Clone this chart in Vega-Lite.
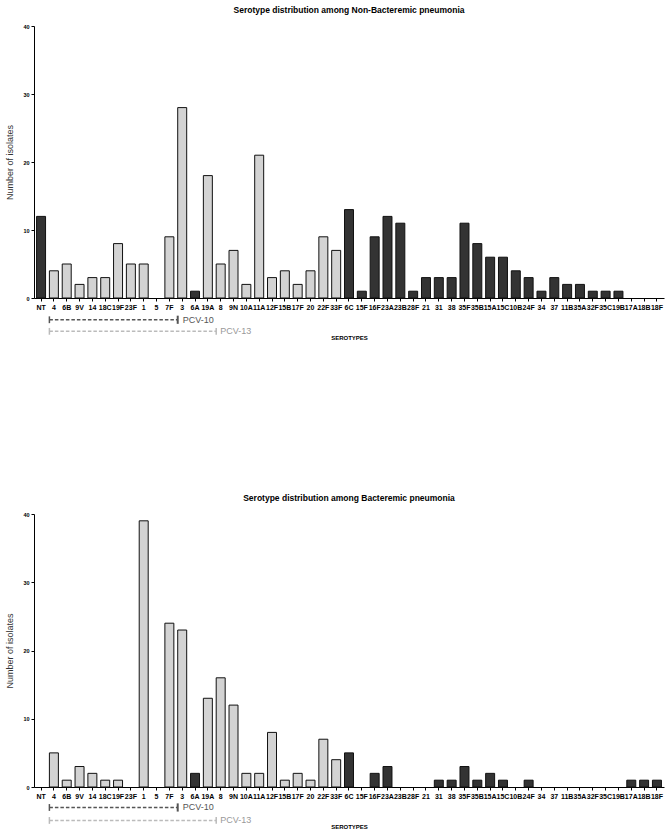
{
  "$schema": "https://vega.github.io/schema/vega-lite/v6.json",
  "padding": {"left": 5, "top": 5, "right": 5, "bottom": 5},
  "background": "#ffffff",
  "config": {
    "font": "Liberation Sans",
    "view": {"stroke": null},
    "axis": {"domainColor": "#000000", "tickColor": "#000000", "labelColor": "#000000", "labelFontWeight": "bold", "grid": false, "tickSize": 3, "domainWidth": 1, "tickWidth": 1},
    "title": {"fontSize": 8.5, "fontWeight": "bold", "color": "#000000", "offset": 10, "anchor": "middle"},
    "concat": {"spacing": 153}
  },
  "datasets": {
    "serotypes": [
      {"serotype": "NT", "group": "non-PPV23", "nonBacteremic": 12, "bacteremic": 0},
      {"serotype": "4", "group": "PPV23", "nonBacteremic": 4, "bacteremic": 5},
      {"serotype": "6B", "group": "PPV23", "nonBacteremic": 5, "bacteremic": 1},
      {"serotype": "9V", "group": "PPV23", "nonBacteremic": 2, "bacteremic": 3},
      {"serotype": "14", "group": "PPV23", "nonBacteremic": 3, "bacteremic": 2},
      {"serotype": "18C", "group": "PPV23", "nonBacteremic": 3, "bacteremic": 1},
      {"serotype": "19F", "group": "PPV23", "nonBacteremic": 8, "bacteremic": 1},
      {"serotype": "23F", "group": "PPV23", "nonBacteremic": 5, "bacteremic": 0},
      {"serotype": "1", "group": "PPV23", "nonBacteremic": 5, "bacteremic": 39},
      {"serotype": "5", "group": "PPV23", "nonBacteremic": 0, "bacteremic": 0},
      {"serotype": "7F", "group": "PPV23", "nonBacteremic": 9, "bacteremic": 24},
      {"serotype": "3", "group": "PPV23", "nonBacteremic": 28, "bacteremic": 23},
      {"serotype": "6A", "group": "non-PPV23", "nonBacteremic": 1, "bacteremic": 2},
      {"serotype": "19A", "group": "PPV23", "nonBacteremic": 18, "bacteremic": 13},
      {"serotype": "8", "group": "PPV23", "nonBacteremic": 5, "bacteremic": 16},
      {"serotype": "9N", "group": "PPV23", "nonBacteremic": 7, "bacteremic": 12},
      {"serotype": "10A", "group": "PPV23", "nonBacteremic": 2, "bacteremic": 2},
      {"serotype": "11A", "group": "PPV23", "nonBacteremic": 21, "bacteremic": 2},
      {"serotype": "12F", "group": "PPV23", "nonBacteremic": 3, "bacteremic": 8},
      {"serotype": "15B", "group": "PPV23", "nonBacteremic": 4, "bacteremic": 1},
      {"serotype": "17F", "group": "PPV23", "nonBacteremic": 2, "bacteremic": 2},
      {"serotype": "20", "group": "PPV23", "nonBacteremic": 4, "bacteremic": 1},
      {"serotype": "22F", "group": "PPV23", "nonBacteremic": 9, "bacteremic": 7},
      {"serotype": "33F", "group": "PPV23", "nonBacteremic": 7, "bacteremic": 4},
      {"serotype": "6C", "group": "non-PPV23", "nonBacteremic": 13, "bacteremic": 5},
      {"serotype": "15F", "group": "non-PPV23", "nonBacteremic": 1, "bacteremic": 0},
      {"serotype": "16F", "group": "non-PPV23", "nonBacteremic": 9, "bacteremic": 2},
      {"serotype": "23A", "group": "non-PPV23", "nonBacteremic": 12, "bacteremic": 3},
      {"serotype": "23B", "group": "non-PPV23", "nonBacteremic": 11, "bacteremic": 0},
      {"serotype": "28F", "group": "non-PPV23", "nonBacteremic": 1, "bacteremic": 0},
      {"serotype": "21", "group": "non-PPV23", "nonBacteremic": 3, "bacteremic": 0},
      {"serotype": "31", "group": "non-PPV23", "nonBacteremic": 3, "bacteremic": 1},
      {"serotype": "38", "group": "non-PPV23", "nonBacteremic": 3, "bacteremic": 1},
      {"serotype": "35F", "group": "non-PPV23", "nonBacteremic": 11, "bacteremic": 3},
      {"serotype": "35B", "group": "non-PPV23", "nonBacteremic": 8, "bacteremic": 1},
      {"serotype": "15A", "group": "non-PPV23", "nonBacteremic": 6, "bacteremic": 2},
      {"serotype": "15C", "group": "non-PPV23", "nonBacteremic": 6, "bacteremic": 1},
      {"serotype": "10B", "group": "non-PPV23", "nonBacteremic": 4, "bacteremic": 0},
      {"serotype": "24F", "group": "non-PPV23", "nonBacteremic": 3, "bacteremic": 1},
      {"serotype": "34", "group": "non-PPV23", "nonBacteremic": 1, "bacteremic": 0},
      {"serotype": "37", "group": "non-PPV23", "nonBacteremic": 3, "bacteremic": 0},
      {"serotype": "11B", "group": "non-PPV23", "nonBacteremic": 2, "bacteremic": 0},
      {"serotype": "35A", "group": "non-PPV23", "nonBacteremic": 2, "bacteremic": 0},
      {"serotype": "32F", "group": "non-PPV23", "nonBacteremic": 1, "bacteremic": 0},
      {"serotype": "35C", "group": "non-PPV23", "nonBacteremic": 1, "bacteremic": 0},
      {"serotype": "19B", "group": "non-PPV23", "nonBacteremic": 1, "bacteremic": 0},
      {"serotype": "17A", "group": "non-PPV23", "nonBacteremic": 0, "bacteremic": 1},
      {"serotype": "18B", "group": "non-PPV23", "nonBacteremic": 0, "bacteremic": 1},
      {"serotype": "18F", "group": "non-PPV23", "nonBacteremic": 0, "bacteremic": 1}
    ],
    "vaccines": [
      {"vaccine": "PCV-10", "from": "4", "to": "7F"},
      {"vaccine": "PCV-13", "from": "4", "to": "19A"}
    ]
  },
  "vconcat": [
    {
      "title": "Serotype distribution among Non-Bacteremic pneumonia",
      "width": 630,
      "height": 272,
      "layer": [
        {
          "data": {"name": "serotypes"},
          "mark": {"type": "bar", "stroke": "#111111", "strokeWidth": 1},
          "encoding": {
            "x": {"field": "serotype", "type": "nominal", "sort": null, "title": "SEROTYPES",
                  "scale": {"paddingInner": 0.3, "paddingOuter": 0.2},
                  "axis": {"labelAngle": 0, "labelOverlap": false, "labelBound": false, "labelFontSize": 7, "labelPadding": 2, "titleFontSize": 6, "titleFontWeight": "bold", "titleColor": "#000000", "titlePadding": 24}},
            "y": {"field": "nonBacteremic", "type": "quantitative", "title": "Number of isolates",
                  "scale": {"domain": [0, 40], "nice": false},
                  "axis": {"values": [0, 10, 20, 30, 40], "labelFontSize": 5.5, "labelPadding": 2, "titleFontSize": 9, "titleFontWeight": "normal", "titleColor": "#333333", "titlePadding": 8}},
            "color": {"field": "group", "type": "nominal", "scale": {"domain": ["PPV23", "non-PPV23"], "range": ["#d3d3d3", "#333333"]}, "legend": null},
            "strokeOpacity": {"condition": {"test": "datum.nonBacteremic === 0", "value": 0}, "value": 1}
          }
        },
        {
          "data": {"name": "vaccines"},
          "transform": [{"filter": "datum.vaccine === 'PCV-10'"}],
          "layer": [
            {"mark": {"type": "rule", "color": "#555555", "strokeWidth": 1.5, "strokeDash": [3.5, 2]},
             "encoding": {"x": {"field": "from", "type": "nominal", "sort": null, "bandPosition": 0, "title": "SEROTYPES"}, "x2": {"field": "to", "bandPosition": 1.43}, "y": {"datum": -3.2}}},
            {"mark": {"type": "rule", "color": "#555555", "strokeWidth": 1.5},
             "encoding": {"x": {"field": "from", "type": "nominal", "sort": null, "bandPosition": 0, "title": "SEROTYPES"}, "y": {"datum": -2.7}, "y2": {"datum": -3.7}}},
            {"mark": {"type": "rule", "color": "#555555", "strokeWidth": 2},
             "encoding": {"x": {"field": "to", "type": "nominal", "sort": null, "bandPosition": 1.43, "title": "SEROTYPES"}, "y": {"datum": -2.6}, "y2": {"datum": -3.8}}},
            {"mark": {"type": "text", "align": "left", "baseline": "middle", "dx": 5, "fontSize": 9, "color": "#555555"},
             "encoding": {"x": {"field": "to", "type": "nominal", "sort": null, "bandPosition": 1.43, "title": "SEROTYPES"}, "y": {"datum": -3.2}, "text": {"field": "vaccine"}}}
          ]
        },
        {
          "data": {"name": "vaccines"},
          "transform": [{"filter": "datum.vaccine === 'PCV-13'"}],
          "layer": [
            {"mark": {"type": "rule", "color": "#bbbbbb", "strokeWidth": 1.5, "strokeDash": [3.5, 2]},
             "encoding": {"x": {"field": "from", "type": "nominal", "sort": null, "bandPosition": 0, "title": "SEROTYPES"}, "x2": {"field": "to", "bandPosition": 1.43}, "y": {"datum": -4.9}}},
            {"mark": {"type": "rule", "color": "#bbbbbb", "strokeWidth": 1.5},
             "encoding": {"x": {"field": "from", "type": "nominal", "sort": null, "bandPosition": 0, "title": "SEROTYPES"}, "y": {"datum": -4.4}, "y2": {"datum": -5.4}}},
            {"mark": {"type": "rule", "color": "#bbbbbb", "strokeWidth": 1.5},
             "encoding": {"x": {"field": "to", "type": "nominal", "sort": null, "bandPosition": 1.43, "title": "SEROTYPES"}, "y": {"datum": -4.4}, "y2": {"datum": -5.4}}},
            {"mark": {"type": "text", "align": "left", "baseline": "middle", "dx": 4, "fontSize": 9, "color": "#999999"},
             "encoding": {"x": {"field": "to", "type": "nominal", "sort": null, "bandPosition": 1.43, "title": "SEROTYPES"}, "y": {"datum": -4.9}, "text": {"field": "vaccine"}}}
          ]
        }
      ]
    },
    {
      "title": "Serotype distribution among Bacteremic pneumonia",
      "width": 630,
      "height": 273,
      "layer": [
        {
          "data": {"name": "serotypes"},
          "mark": {"type": "bar", "stroke": "#111111", "strokeWidth": 1},
          "encoding": {
            "x": {"field": "serotype", "type": "nominal", "sort": null, "title": "SEROTYPES",
                  "scale": {"paddingInner": 0.3, "paddingOuter": 0.2},
                  "axis": {"labelAngle": 0, "labelOverlap": false, "labelBound": false, "labelFontSize": 7, "labelPadding": 2, "titleFontSize": 6, "titleFontWeight": "bold", "titleColor": "#000000", "titlePadding": 24}},
            "y": {"field": "bacteremic", "type": "quantitative", "title": "Number of isolates",
                  "scale": {"domain": [0, 40], "nice": false},
                  "axis": {"values": [0, 10, 20, 30, 40], "labelFontSize": 5.5, "labelPadding": 2, "titleFontSize": 9, "titleFontWeight": "normal", "titleColor": "#333333", "titlePadding": 8}},
            "color": {"field": "group", "type": "nominal", "scale": {"domain": ["PPV23", "non-PPV23"], "range": ["#d3d3d3", "#333333"]}, "legend": null},
            "strokeOpacity": {"condition": {"test": "datum.bacteremic === 0", "value": 0}, "value": 1}
          }
        },
        {
          "data": {"name": "vaccines"},
          "transform": [{"filter": "datum.vaccine === 'PCV-10'"}],
          "layer": [
            {"mark": {"type": "rule", "color": "#555555", "strokeWidth": 1.5, "strokeDash": [3.5, 2]},
             "encoding": {"x": {"field": "from", "type": "nominal", "sort": null, "bandPosition": 0, "title": "SEROTYPES"}, "x2": {"field": "to", "bandPosition": 1.43}, "y": {"datum": -3.0}}},
            {"mark": {"type": "rule", "color": "#555555", "strokeWidth": 1.5},
             "encoding": {"x": {"field": "from", "type": "nominal", "sort": null, "bandPosition": 0, "title": "SEROTYPES"}, "y": {"datum": -2.5}, "y2": {"datum": -3.5}}},
            {"mark": {"type": "rule", "color": "#555555", "strokeWidth": 2},
             "encoding": {"x": {"field": "to", "type": "nominal", "sort": null, "bandPosition": 1.43, "title": "SEROTYPES"}, "y": {"datum": -2.4}, "y2": {"datum": -3.6}}},
            {"mark": {"type": "text", "align": "left", "baseline": "middle", "dx": 5, "fontSize": 9, "color": "#555555"},
             "encoding": {"x": {"field": "to", "type": "nominal", "sort": null, "bandPosition": 1.43, "title": "SEROTYPES"}, "y": {"datum": -3.0}, "text": {"field": "vaccine"}}}
          ]
        },
        {
          "data": {"name": "vaccines"},
          "transform": [{"filter": "datum.vaccine === 'PCV-13'"}],
          "layer": [
            {"mark": {"type": "rule", "color": "#bbbbbb", "strokeWidth": 1.5, "strokeDash": [3.5, 2]},
             "encoding": {"x": {"field": "from", "type": "nominal", "sort": null, "bandPosition": 0, "title": "SEROTYPES"}, "x2": {"field": "to", "bandPosition": 1.43}, "y": {"datum": -4.9}}},
            {"mark": {"type": "rule", "color": "#bbbbbb", "strokeWidth": 1.5},
             "encoding": {"x": {"field": "from", "type": "nominal", "sort": null, "bandPosition": 0, "title": "SEROTYPES"}, "y": {"datum": -4.4}, "y2": {"datum": -5.4}}},
            {"mark": {"type": "rule", "color": "#bbbbbb", "strokeWidth": 1.5},
             "encoding": {"x": {"field": "to", "type": "nominal", "sort": null, "bandPosition": 1.43, "title": "SEROTYPES"}, "y": {"datum": -4.4}, "y2": {"datum": -5.4}}},
            {"mark": {"type": "text", "align": "left", "baseline": "middle", "dx": 4, "fontSize": 9, "color": "#999999"},
             "encoding": {"x": {"field": "to", "type": "nominal", "sort": null, "bandPosition": 1.43, "title": "SEROTYPES"}, "y": {"datum": -4.9}, "text": {"field": "vaccine"}}}
          ]
        }
      ]
    }
  ]
}
